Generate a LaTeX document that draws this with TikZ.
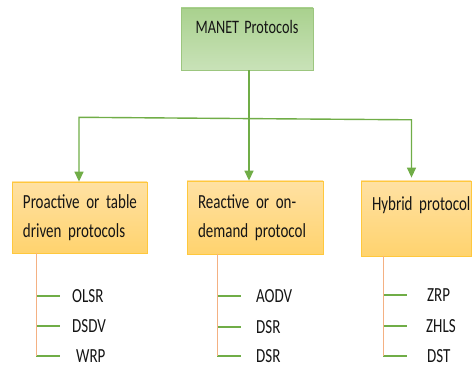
\documentclass[tikz,border=0pt]{standalone}
\usepackage{fontspec}
\setmainfont{Carlito}[FakeStretch=0.75]
\usetikzlibrary{arrows.meta}
\definecolor{mpink}{HTML}{151515}
\definecolor{mpgreen}{HTML}{70AD47}
\definecolor{mprootrule}{HTML}{9CC67F}
\definecolor{mproottop}{HTML}{A9D18E}
\definecolor{mprootbot}{HTML}{C9E2B8}
\definecolor{mpgoldrule}{HTML}{FFC83D}
\definecolor{mpgoldtop}{HTML}{FFE1A3}
\definecolor{mpgoldbot}{HTML}{FFD36E}
\definecolor{mpsalmon}{HTML}{F4B183}
\tikzset{
  mp root/.style={draw=mprootrule, line width=0.8pt, top color=mproottop,
    bottom color=mprootbot, minimum width=132pt, minimum height=62pt,
    inner sep=0pt, text height=14pt, text depth=24pt,
    font=\fontsize{19}{23}\selectfont},
  mp group/.style={draw=mpgoldrule, line width=0.8pt, top color=mpgoldtop,
    bottom color=mpgoldbot, align=left, inner xsep=11pt, inner ysep=0pt,
    font=\fontsize{20}{29}\selectfont},
  mp arrow/.style={-{Triangle[length=10pt,width=9pt]}, line width=1.4pt,
    draw=mpgreen},
  mp stem/.style={line width=0.9pt, draw=mpsalmon},
  mp twig/.style={line width=1.5pt, draw=mpgreen},
  mp leaf/.style={inner sep=0pt, anchor=west, font=\fontsize{20}{24}\selectfont}
}
\begin{document}
\begin{tikzpicture}[x=1pt, y=-1pt, text=mpink]
  \useasboundingbox (0,0) rectangle (472,366);
  \node[mp root] (manet) at (247,39) {MANET\hspace{2pt} Protocols};
  \node[mp group, text width=113pt, minimum height=71pt] (pro) at (79.5,217.5)
    {\mbox{Proactive or table}\\\mbox{driven protocols}};
  \node[mp group, text width=114pt, minimum height=73pt] (rea) at (255,217.5)
    {\mbox{Reactive or on-}\\\mbox{demand protocol}};
  \node[mp group, text width=88pt, minimum height=75pt] (hyb) at (416,218.5)
    {\mbox{Hybrid protocol}\\\mbox{}};
  % junctions on the cross bar
  \coordinate (hub) at (249,118.6);
  \coordinate (jl) at (79,117.3);
  \coordinate (jr) at (411.5,119.8);
  \draw[mp arrow] (manet.south -| hub) -- (hub |- rea.north);
  \draw[mp arrow] (hub) -- (jl) -- (jl |- pro.north);
  \draw[mp arrow, shorten >=3pt] (hub) -- (jr) -- (jr |- hyb.north);
  % protocol lists
  \foreach \nm/\tx/\lx/\y/\gap/\lab in {
    o1/36/72/296/12/OLSR, o2/36/72/326/12/DSDV, o3/36/76/356/16/WRP,
    r1/217/256/296/15/AODV, r2/217/256/327/15/DSR, r3/217/256/356/15/DSR,
    h1/383/427/295/20/ZRP, h2/383/426/326/19/ZHLS, h3/383/427/356/20/DST} {
    \node[mp leaf] (\nm) at (\lx,\y) {\lab};
    \coordinate (\nm-t) at (\tx,\y);
    \draw[mp twig, shorten >=\gap] (\nm-t) -- (\nm);
  }
  \draw[mp stem] (pro.south -| o1-t) -- (o3-t);
  \draw[mp stem] (rea.south -| r1-t) -- (r3-t);
  \draw[mp stem] (hyb.south -| h1-t) -- (h3-t);
\end{tikzpicture}
\end{document}
